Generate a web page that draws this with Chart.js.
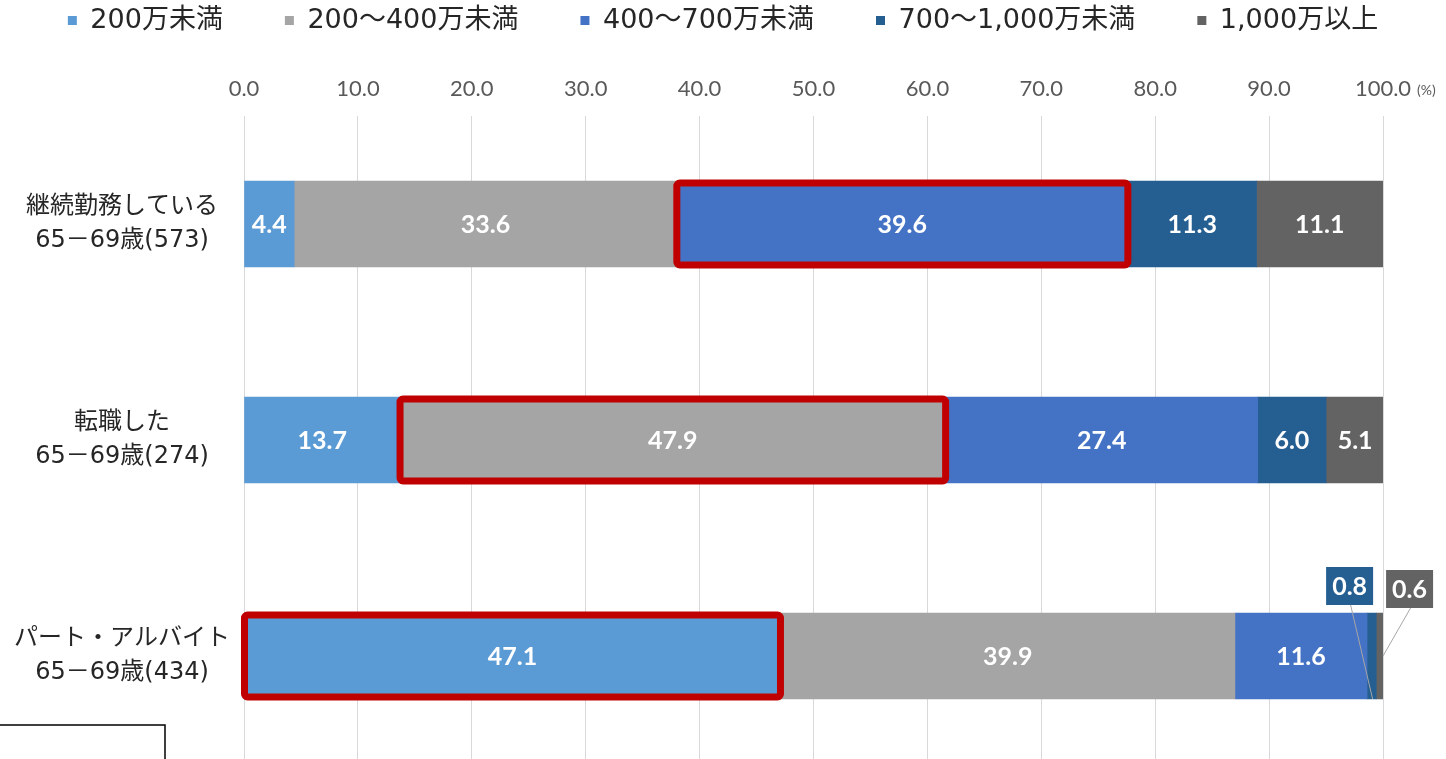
<!DOCTYPE html>
<html lang="ja">
<head>
<meta charset="utf-8">
<script src="https://cdn.jsdelivr.net/npm/chart.js@4"></script>
<style>
  html, body { margin: 0; padding: 0; background: #fff; overflow: hidden; }
  #wrap { position: relative; width: 1446px; height: 764px; }
</style>
</head>
<body>
<div id="wrap"><canvas id="income"></canvas></div>
<script>
// 年収分布（65-69歳、就業形態別）
const categories = [
  ['継続勤務している', '65－69歳(573)'],
  ['転職した', '65－69歳(274)'],
  ['パート・アルバイト', '65－69歳(434)']
];
const seriesNames = ['200万未満', '200～400万未満', '400～700万未満', '700～1,000万未満', '1,000万以上'];
const under200 = [4.4, 13.7, 47.1];
const from200to400 = [33.6, 47.9, 39.9];
const from400to700 = [39.6, 27.4, 11.6];
const from700to1000 = [11.3, 6.0, 0.8];
const over1000 = [11.1, 5.1, 0.6];
const xTicks = [0, 10, 20, 30, 40, 50, 60, 70, 80, 90, 100];

// [カテゴリ, 系列] の組で強調枠を付ける
const highlighted = [[0, 2], [1, 1], [2, 0]];

const seriesColors = ['#5B9BD5', '#A5A5A5', '#4472C4', '#255E91', '#636363'];
const seriesValues = [under200, from200to400, from400to700, from700to1000, over1000];

const labelFont = "'DejaVu Sans', 'Noto Sans CJK JP', sans-serif";

// 細い区間は吹き出しで値を出す
const calloutLayout = [
  null, null, null,
  { dx: -22, dy: -27, anchor: 'bottom' },
  { dx: 30, dy: -24, anchor: 'end' }
];

const segmentLabels = {
  id: 'segmentLabels',
  afterDatasetsDraw(chart) {
    const ctx = chart.ctx;
    ctx.save();
    ctx.font = 'bold 25px Lato';
    ctx.textAlign = 'center';
    ctx.textBaseline = 'middle';
    chart.data.datasets.forEach((ds, i) => {
      chart.getDatasetMeta(i).data.forEach((bar, j) => {
        const v = ds.data[j];
        const cx = (bar.x + bar.base) / 2;
        const top = bar.y - bar.height / 2;
        if (v >= 2) {
          ctx.fillStyle = '#fff';
          ctx.fillText(v.toFixed(1), cx, bar.y + 1);
          return;
        }
        const c = calloutLayout[i];
        if (!c) return;
        const bx = cx + c.dx, by = top + c.dy;
        ctx.strokeStyle = '#A6A6A6';
        ctx.lineWidth = 1;
        ctx.beginPath();
        ctx.moveTo(bx + 1, by + 19);
        if (c.anchor === 'bottom') ctx.lineTo(cx + 1, bar.y + bar.height / 2);
        else ctx.lineTo(Math.max(bar.x, bar.base), bar.y);
        ctx.stroke();
        ctx.fillStyle = seriesColors[i];
        ctx.fillRect(bx - 23.5, by - 19, 47, 38);
        ctx.fillStyle = '#fff';
        ctx.fillText(v.toFixed(1), bx, by + 1);
      });
    });

    // 強調枠
    ctx.strokeStyle = '#C00000';
    ctx.lineWidth = 7;
    highlighted.forEach(([row, ds]) => {
      const bar = chart.getDatasetMeta(ds).data[row];
      const left = Math.min(bar.x, bar.base);
      const right = Math.max(bar.x, bar.base);
      const top = bar.y - bar.height / 2 + 2;
      ctx.beginPath();
      ctx.roundRect(left, top, right - left, bar.height - 4, 3);
      ctx.stroke();
    });
    ctx.restore();
  },
  afterDraw(chart) {
    const ctx = chart.ctx;
    const x = chart.scales.x;
    ctx.save();
    // 単位
    ctx.font = '22px Lato';
    const w = ctx.measureText('100.0').width;
    ctx.font = '14px Lato';
    ctx.fillStyle = '#595959';
    ctx.textBaseline = 'middle';
    ctx.fillText('(%)', x.getPixelForValue(100) + w / 2 + 6, chart.chartArea.top - 26);
    // 左下の枠
    ctx.strokeStyle = '#000';
    ctx.lineWidth = 1.5;
    ctx.strokeRect(-2, 725, 167, 60);
    ctx.restore();
  }
};

new Chart(document.getElementById('income'), {
  type: 'bar',
  data: {
    labels: categories,
    datasets: seriesNames.map((name, i) => ({
      label: name,
      data: seriesValues[i],
      backgroundColor: seriesColors[i],
      borderWidth: 0,
      barThickness: 86
    }))
  },
  options: {
    indexAxis: 'y',
    responsive: true,
    maintainAspectRatio: false,
    animation: false,
    layout: { padding: { top: -55, right: 0, bottom: 0, left: 0 } },
    plugins: {
      legend: {
        position: 'top',
        labels: {
          boxWidth: 9,
          boxHeight: 9,
          padding: 62,
          color: '#262626',
          font: { family: labelFont, size: 27 }
        }
      },
      tooltip: { enabled: false }
    },
    scales: {
      x: {
        position: 'top',
        stacked: true,
        min: 0,
        max: 100,
        afterBuildTicks(scale) { scale.ticks = xTicks.map(v => ({ value: v })); },
        afterFit(scale) { scale.height = 72; },
        ticks: {
          padding: 14,
          color: '#595959',
          font: { family: 'Lato', size: 22 },
          callback: v => v.toFixed(1)
        },
        grid: { color: '#D9D9D9', lineWidth: 1, drawTicks: false },
        border: { display: false }
      },
      y: {
        stacked: true,
        afterFit(scale) {
          scale.width = 244;
          scale.paddingTop = 0;
          scale.paddingBottom = 0;
        },
        ticks: {
          crossAlign: 'center',
          padding: 6,
          color: '#262626',
          font: { family: labelFont, size: 24, lineHeight: 1.4 }
        },
        grid: { display: false },
        border: { display: false }
      },
      // 右側の余白用（目盛なし）
      yRight: {
        type: 'category',
        position: 'right',
        ticks: { display: false },
        grid: { display: false },
        border: { display: false },
        afterFit(scale) {
          scale.width = 63;
          scale.paddingTop = 0;
          scale.paddingBottom = 0;
        }
      }
    }
  },
  plugins: [segmentLabels]
});
</script>
</body>
</html>
